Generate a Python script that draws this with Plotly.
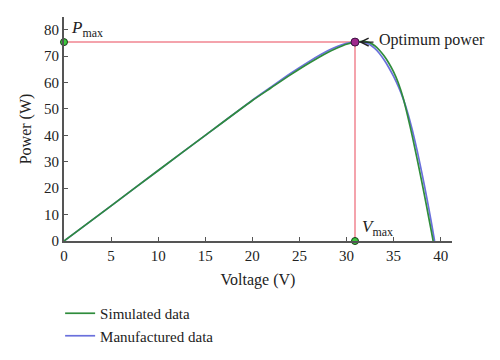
import plotly.graph_objects as go

# Simulated data (green)
sim_v = [0, 5, 10, 15, 20, 22, 24, 26, 28, 29, 30, 31, 32, 32.5, 33, 33.5, 34, 34.5,
         35, 35.5, 36, 36.5, 37, 37.5, 38, 38.5, 39, 39.2]
sim_p = [0, 13.3, 26.7, 40.0, 53.2, 58.0, 62.8, 67.3, 71.4, 73.1, 74.5, 75.3, 75.5, 75.0,
         73.9, 72.2, 70.0, 67.3, 64.0, 59.8, 54.3, 47.2, 39.4, 31.0, 22.3, 13.2, 3.8, 0]

# Manufactured data (blue)
man_v = [0, 5, 10, 15, 20, 22, 24, 26, 28, 29, 30, 31, 31.5, 32, 32.5, 33, 33.5, 34, 34.5,
         35, 35.5, 36, 36.5, 37, 37.5, 38, 38.5, 39, 39.35]
man_p = [0, 13.3, 26.7, 40.0, 53.3, 58.3, 63.3, 67.9, 72.0, 73.6, 74.8, 75.3, 75.3, 75.0,
         74.3, 72.9, 71.0, 68.5, 65.6, 62.3, 58.5, 54.0, 48.5, 41.8, 34.2, 25.8, 16.8, 7.2, 0]

v_max = 30.9
p_max = 75.3

x_ticks = [0, 5, 10, 15, 20, 25, 30, 35, 40]
y_ticks = [0, 10, 20, 30, 40, 50, 60, 70, 80]

GREEN = "#2f8c3c"
BLUE = "#6a70dc"
RED = "#f08590"
FONT = "Liberation Serif"

fig = go.Figure()

# guide lines
fig.add_trace(go.Scatter(x=[0, v_max], y=[p_max, p_max], mode="lines",
                         line=dict(color=RED, width=1.5), showlegend=False, hoverinfo="skip"))
fig.add_trace(go.Scatter(x=[v_max, v_max], y=[0, p_max], mode="lines",
                         line=dict(color=RED, width=1.5), showlegend=False, hoverinfo="skip"))

fig.add_trace(go.Scatter(x=man_v, y=man_p, mode="lines", name="Manufactured data",
                         line=dict(color=BLUE, width=1.7, shape="spline", smoothing=0.6)))
fig.add_trace(go.Scatter(x=sim_v, y=sim_p, mode="lines", name="Simulated data",
                         line=dict(color=GREEN, width=1.7, shape="spline", smoothing=0.6)))

fig.add_trace(go.Scatter(x=[0, v_max], y=[p_max, 0], mode="markers", showlegend=False,
                         marker=dict(color="#3cc83c", size=7, line=dict(color="#1a3a1a", width=1)),
                         cliponaxis=False))
fig.add_trace(go.Scatter(x=[v_max], y=[p_max], mode="markers", showlegend=False,
                         marker=dict(color="#a0288c", size=8, line=dict(color="#3a1040", width=1)),
                         cliponaxis=False))

fig.add_annotation(x=v_max, y=p_max, ax=20, ay=0, text="", showarrow=True,
                   arrowhead=5, arrowsize=1.3, arrowwidth=1.2, arrowcolor="#222",
                   standoff=4)
fig.add_annotation(x=33.2, y=p_max + 0.8, text="Optimum power", showarrow=False,
                   xanchor="left", yanchor="middle",
                   font=dict(family=FONT, size=16, color="#222"))
fig.add_annotation(x=0.5, y=80.2, text="<i>P</i><sub>max</sub>", showarrow=False,
                   xanchor="left", yanchor="middle",
                   font=dict(family=FONT, size=17, color="#222"))
fig.add_annotation(x=31.4, y=4.8, text="<i>V</i><sub>max</sub>", showarrow=False,
                   xanchor="left", yanchor="middle",
                   font=dict(family=FONT, size=17, color="#222"))

axis_common = dict(showgrid=False, zeroline=False, showline=True, linecolor="#555",
                   linewidth=2, ticks="inside", ticklen=4, tickcolor="#555", tickwidth=1,
                   automargin=False,
                   tickfont=dict(family=FONT, size=15, color="#222"))

fig.update_layout(
    width=500, height=360,
    margin=dict(l=56, r=56, t=9, b=127),
    paper_bgcolor="white", plot_bgcolor="white",
    xaxis=dict(range=[0, 41.2], tickvals=x_ticks,
               title=dict(text="Voltage (V)", font=dict(family=FONT, size=16, color="#222"), standoff=11),
               **axis_common),
    yaxis=dict(range=[0, 84.8], tickvals=y_ticks,
               title=dict(text="Power (W)", font=dict(family=FONT, size=16, color="#222"), standoff=8),
               **axis_common),
    legend=dict(x=-0.01, y=-0.25, xanchor="left", yanchor="top", traceorder="reversed",
                font=dict(family=FONT, size=15, color="#222"), bgcolor="rgba(0,0,0,0)",
                tracegroupgap=0, itemwidth=30),
    showlegend=True,
)

fig.write_html("out.html")
